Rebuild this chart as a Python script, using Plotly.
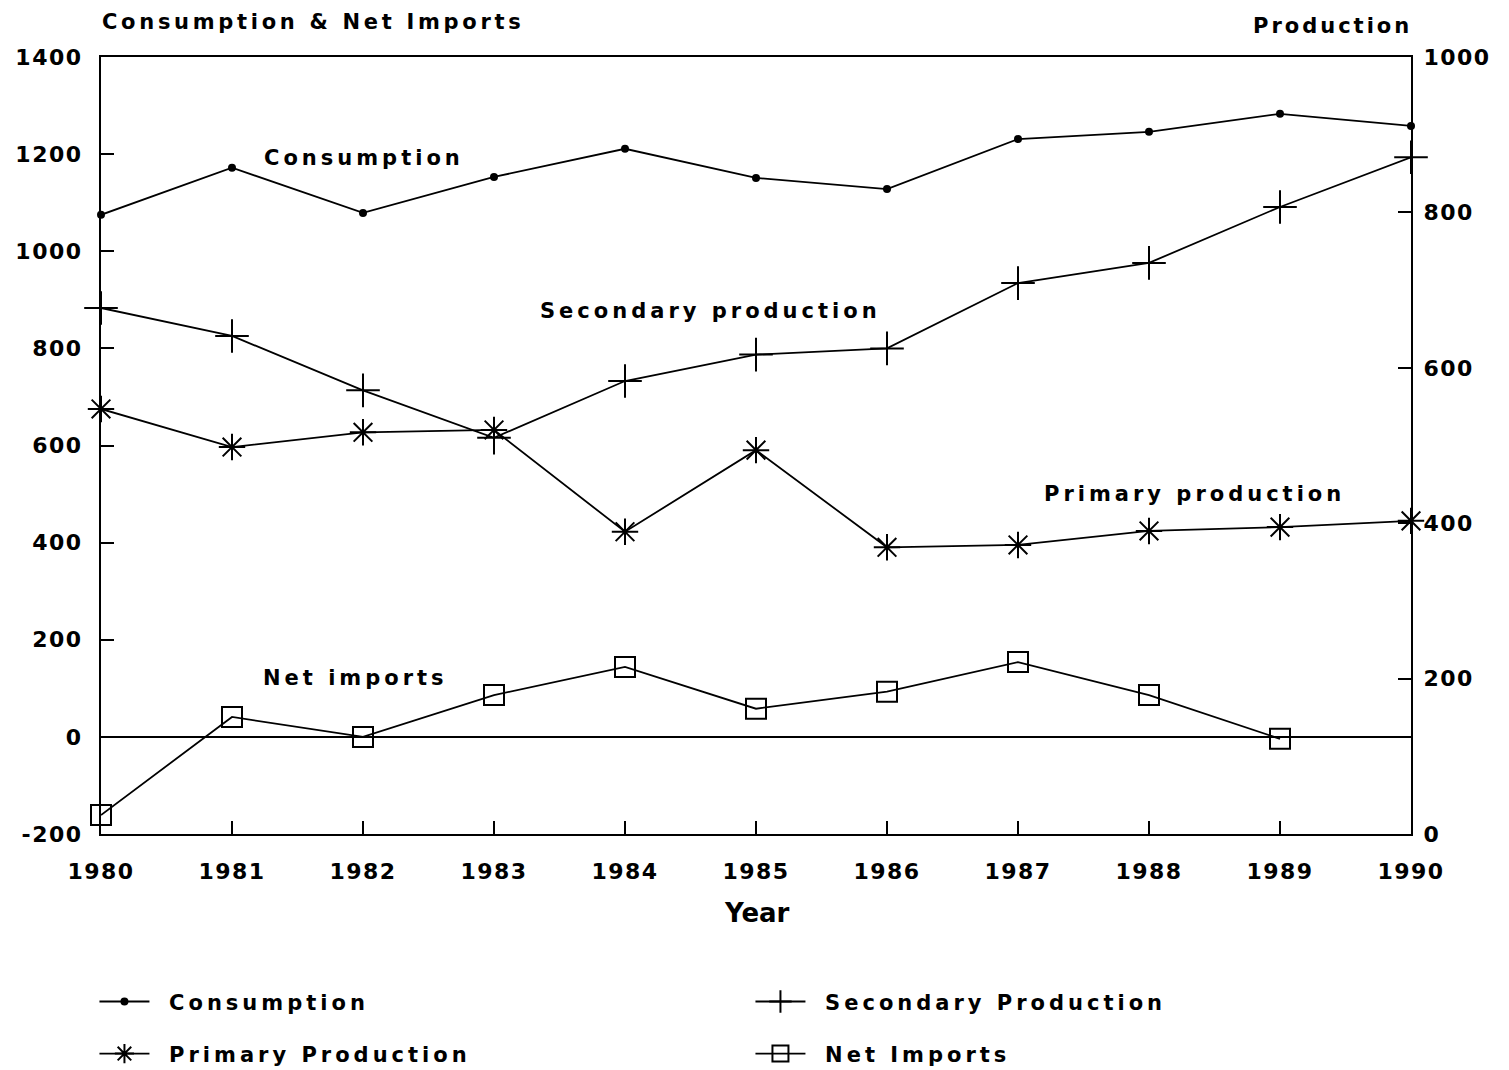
import plotly.graph_objects as go

# ---------------- data ----------------
years = [1980, 1981, 1982, 1983, 1984, 1985, 1986, 1987, 1988, 1989, 1990]
consumption = [1075, 1172, 1079, 1153, 1211, 1151, 1128, 1231, 1246, 1283, 1258]
secondary_production = [677, 641, 571, 510, 583, 617, 625, 709, 735, 807, 871]
primary_production = [547, 498, 517, 520, 389, 494, 369, 372, 390, 395, 403]
net_import_years = [1980, 1981, 1982, 1983, 1984, 1985, 1986, 1987, 1988, 1989]
net_imports = [-161, 41, 0, 86, 144, 58, 93, 154, 86, -4]

left_ticks = [-200, 0, 200, 400, 600, 800, 1000, 1200, 1400]
right_ticks = [0, 200, 400, 600, 800, 1000]

FONT = "DejaVu Sans"
BLACK = "black"
LW = 1.8


def sp(text, spacing):
    return f'<span style="letter-spacing:{spacing}px">{text}</span>'


def legend_name(text):
    return "&nbsp;&nbsp;" + sp(text, 4)


fig = go.Figure()

fig.add_trace(go.Scatter(
    x=years, y=consumption, name=legend_name("Consumption"), mode="lines+markers",
    line=dict(color=BLACK, width=LW),
    marker=dict(symbol="circle", size=8, color=BLACK),
    cliponaxis=False, legend="legend"))

fig.add_trace(go.Scatter(
    x=years, y=secondary_production, name=legend_name("Secondary Production"),
    mode="lines+markers", yaxis="y2",
    line=dict(color=BLACK, width=LW),
    marker=dict(symbol="cross-thin-open", size=24, color=BLACK,
                line=dict(color=BLACK, width=2)),
    cliponaxis=False, legend="legend"))

fig.add_trace(go.Scatter(
    x=years, y=primary_production, name=legend_name("Primary Production"),
    mode="lines+markers", yaxis="y2",
    line=dict(color=BLACK, width=LW),
    marker=dict(symbol="asterisk-open", size=22, color=BLACK,
                line=dict(color=BLACK, width=2)),
    cliponaxis=False, legend="legend2"))

fig.add_trace(go.Scatter(
    x=net_import_years, y=net_imports, name=legend_name("Net Imports"),
    mode="lines+markers",
    line=dict(color=BLACK, width=LW),
    marker=dict(symbol="square-open", size=20, color=BLACK,
                line=dict(color=BLACK, width=2)),
    cliponaxis=False, legend="legend2"))

tick_font = dict(family=FONT, size=22, color=BLACK, weight="bold")
label_font = dict(family=FONT, size=21, color=BLACK, weight="bold")

axis_common = dict(showgrid=False, showline=True, linecolor=BLACK, linewidth=2,
                   ticks="inside", ticklen=13, tickwidth=1.5, tickcolor=BLACK,
                   tickfont=tick_font)

legend_common = dict(orientation="h", font=label_font, bgcolor="rgba(0,0,0,0)",
                     entrywidth=591, entrywidthmode="pixels", itemwidth=50,
                     xanchor="left", yanchor="middle", itemsizing="trace")

# the page body adds an 8px offset, so the figure is 8px smaller
fig.update_layout(
    width=1501, height=1062,
    margin=dict(l=93, r=98, t=49, b=236, autoexpand=False),
    paper_bgcolor="white", plot_bgcolor="white",
    font=dict(family=FONT, color=BLACK),
    xaxis=dict(range=[1980, 1990], tickmode="array", tickvals=years,
               ticktext=[sp(str(y), 1.5) for y in years], mirror=True,
               zeroline=False, ticklabelstandoff=17, **axis_common),
    yaxis=dict(range=[-200, 1400], tickmode="array", tickvals=left_ticks,
               ticktext=[sp(str(v), 1.5) for v in left_ticks],
               zeroline=True, zerolinecolor=BLACK, zerolinewidth=1.5,
               ticklabelstandoff=12, **axis_common),
    yaxis2=dict(range=[0, 1000], overlaying="y", side="right", tickmode="array",
                tickvals=right_ticks, ticktext=[sp(str(v), 1.5) for v in right_ticks],
                zeroline=False, ticklabelstandoff=6, **axis_common),
    legend=dict(x=-0.005, y=-0.216, **legend_common),
    legend2=dict(x=-0.005, y=-0.283, **legend_common),
    showlegend=True,
)

annotations = [
    dict(text=sp("Consumption & Net Imports", 3.7), xref="paper", yref="paper",
         x=0.162, y=1.045, font=label_font),
    dict(text=sp("Production", 3), xref="paper", yref="paper",
         x=0.94, y=1.040, font=label_font),
    dict(text="Year", xref="paper", yref="paper", x=0.5008, y=-0.1017,
         font=dict(family=FONT, size=26, color=BLACK, weight="bold")),
    dict(text=sp("Consumption", 4), xref="x", yref="y", x=1982.01, y=1192,
         font=label_font),
    dict(text=sp("Secondary production", 4), xref="x", yref="y", x=1984.65, y=877,
         font=label_font),
    dict(text=sp("Primary production", 4), xref="x", yref="y", x=1988.35, y=500,
         font=label_font),
    dict(text=sp("Net imports", 4), xref="x", yref="y", x=1981.94, y=121,
         font=label_font),
]
for a in annotations:
    a.update(showarrow=False, xanchor="center", yanchor="middle")
fig.update_layout(annotations=annotations)

fig.write_html("out.html")
